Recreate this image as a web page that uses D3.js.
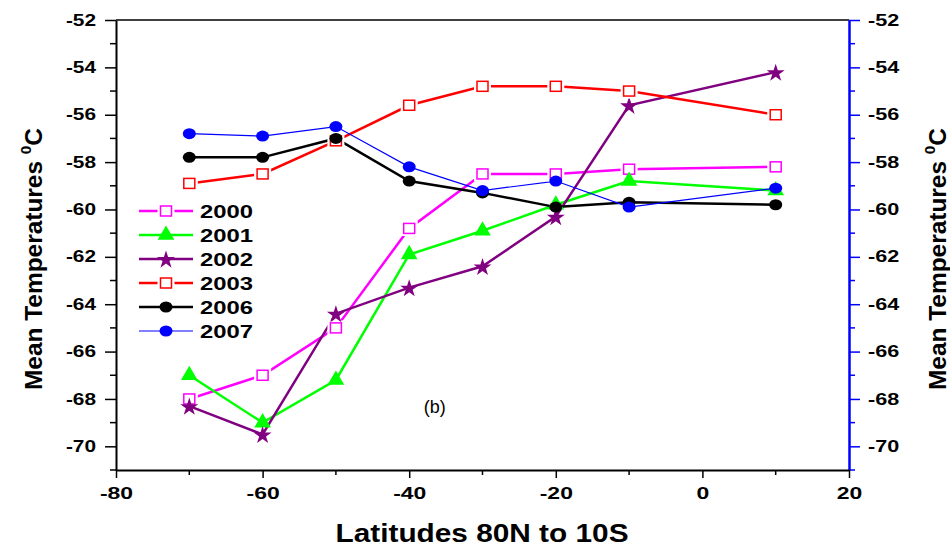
<!DOCTYPE html>
<html><head><meta charset="utf-8">
<script src="https://cdn.jsdelivr.net/npm/d3@7/dist/d3.min.js"></script>
<style>body{margin:0;background:#fff}svg{display:block;font-family:"Liberation Sans",Arial,sans-serif}</style>
</head><body><svg id="c" width="950" height="548"></svg>
<script>
const latitudes = [-70, -60, -50, -40, -30, -20, -10, 10];
const y2000 = [-68.0, -67.0, -65.0, -60.8, -58.5, -58.5, -58.3, -58.2];
const y2001 = [-67.0, -69.0, -67.2, -61.9, -60.9, -59.8, -58.8, -59.2];
const y2002 = [-68.3, -69.5, -64.4, -63.3, -62.4, -60.3, -55.6, -54.2];
const y2003 = [-58.9, -58.5, -57.1, -55.6, -54.8, -54.8, -55.0, -56.0];
const y2006 = [-57.8, -57.8, -57.0, -58.8, -59.3, -59.9, -59.7, -59.8];
const y2007 = [-56.8, -56.9, -56.5, -58.2, -59.2, -58.8, -59.9, -59.1];
const seriesNames = ["2000","2001","2002","2003","2006","2007"];
const xTicks = [-80, -60, -40, -20, 0, 20];
const yTicks = [-70, -68, -66, -64, -62, -60, -58, -56, -54, -52];
const xTitle = "Latitudes 80N to 10S";
const yTitle = "Mean Temperatures";
const panelLabel = "(b)";

const series = [
  {name:seriesNames[0], values:y2000, color:"#ff00ff", marker:"osquare", lw:2.5},
  {name:seriesNames[1], values:y2001, color:"#00ff00", marker:"triangle", lw:2.5},
  {name:seriesNames[2], values:y2002, color:"#800080", marker:"star", lw:2.5},
  {name:seriesNames[3], values:y2003, color:"#ff0000", marker:"osquare", lw:2.5},
  {name:seriesNames[4], values:y2006, color:"#000000", marker:"circle", lw:2.5},
  {name:seriesNames[5], values:y2007, color:"#0000ff", marker:"circle", lw:1.2}
];

const svg = d3.select("#c");
const L=116, R=849, T=20, B=470;
const x = d3.scaleLinear().domain([-80,20]).range([L,R]);
const y = d3.scaleLinear().domain([-71,-52]).range([B,T]);
const fmt = d=>String(d);

function stretch(sel,k){
  sel.each(function(){
    const w=this.getComputedTextLength();
    d3.select(this).attr("textLength",w*k).attr("lengthAdjust","spacingAndGlyphs");
  });
}

// frame top
svg.append("line").attr("x1",L).attr("x2",R).attr("y1",T).attr("y2",T).attr("stroke","#000").attr("stroke-width",1.5);

const minorY = d3.range(-71,-51,1).filter(v=>v%2!==0);
const minorX = d3.range(-70,20,20);
function styleAxis(g,color,fs){
  g.select(".domain").attr("stroke",color).attr("stroke-width",2);
  g.selectAll(".tick line").attr("stroke",color).attr("stroke-width",1.5);
  g.selectAll(".tick text").attr("fill","#000").attr("font-size",fs).attr("font-weight","bold")
   .attr("font-family","Liberation Sans, Arial, sans-serif");
}
const gL = svg.append("g").attr("transform",`translate(${L},0)`)
  .call(d3.axisLeft(y).tickValues(yTicks).tickSize(11).tickSizeOuter(0).tickPadding(9).tickFormat(fmt));
styleAxis(gL,"#000",16);
stretch(gL.selectAll(".tick text"),1.3);
gL.selectAll(".minor").data(minorY).enter().append("line")
  .attr("x1",0).attr("x2",-6).attr("y1",d=>y(d)).attr("y2",d=>y(d)).attr("stroke","#000").attr("stroke-width",1.5);

const gR = svg.append("g").attr("transform",`translate(${R},0)`)
  .call(d3.axisRight(y).tickValues(yTicks).tickSize(11).tickSizeOuter(0).tickPadding(8).tickFormat(fmt));
styleAxis(gR,"#0000ff",16);
stretch(gR.selectAll(".tick text"),1.35);
gR.select(".domain").attr("stroke-width",2.5);
gR.selectAll(".minor").data(minorY).enter().append("line")
  .attr("x1",0).attr("x2",6).attr("y1",d=>y(d)).attr("y2",d=>y(d)).attr("stroke","#0000ff").attr("stroke-width",1.5);

const gB = svg.append("g").attr("transform",`translate(0,${B})`)
  .call(d3.axisBottom(x).tickValues(xTicks).tickSize(8).tickSizeOuter(0).tickPadding(9).tickFormat(fmt));
styleAxis(gB,"#000",17);
stretch(gB.selectAll(".tick text"),1.35);
gB.selectAll(".minor").data(minorX).enter().append("line")
  .attr("y1",0).attr("y2",5).attr("x1",d=>x(d)).attr("x2",d=>x(d)).attr("stroke","#000").attr("stroke-width",1.5);

// titles
function yTitleText(g){
  g.append("tspan").text(yTitle+" ");
  g.append("tspan").attr("font-size",15).attr("dy",-11).text("0");
  g.append("tspan").attr("dy",11).text("C");
}
const tl = svg.append("text").attr("transform",`translate(42,259) rotate(-90)`)
  .attr("text-anchor","middle").attr("font-size",24).attr("font-weight","bold")
  .attr("textLength",262).attr("lengthAdjust","spacingAndGlyphs");
yTitleText(tl);
const tr = svg.append("text").attr("transform",`translate(946,259) rotate(-90)`)
  .attr("text-anchor","middle").attr("font-size",24).attr("font-weight","bold")
  .attr("textLength",262).attr("lengthAdjust","spacingAndGlyphs");
yTitleText(tr);
svg.append("text").attr("x",482).attr("y",542).attr("text-anchor","middle")
  .attr("font-size",26).attr("font-weight","bold")
  .attr("textLength",293).attr("lengthAdjust","spacingAndGlyphs").text(xTitle);
svg.append("text").attr("x",x(-36.5)).attr("y",y(-68.6)).attr("text-anchor","middle")
  .attr("font-size",18).text(panelLabel);

// markers
function drawMarker(g, cx, cy, s){
  if(s.marker==="osquare"){
    g.append("rect").attr("x",cx-8.5).attr("y",cy-7.5).attr("width",17).attr("height",15).attr("fill","#fff");
    g.append("rect").attr("x",cx-5.5).attr("y",cy-5).attr("width",11).attr("height",10)
      .attr("fill","#fff").attr("stroke",s.color).attr("stroke-width",1.5);
  } else if(s.marker==="triangle"){
    g.append("path").attr("d",d3.symbol(d3.symbolTriangle,120)()).attr("transform",`translate(${cx},${cy})`).attr("fill",s.color);
  } else if(s.marker==="star"){
    g.append("path").attr("d",d3.symbol(d3.symbolStar,100)()).attr("transform",`translate(${cx},${cy+1})`).attr("fill",s.color);
  } else {
    g.append("ellipse").attr("cx",cx).attr("cy",cy).attr("rx",6.5).attr("ry",5.5).attr("fill",s.color);
  }
}

const line = d3.line().x(d=>x(d[0])).y(d=>y(d[1]));
const plot = svg.append("g");
series.forEach(s=>{
  const pts = latitudes.map((lat,i)=>[lat,s.values[i]]);
  plot.append("path").attr("d",line(pts)).attr("fill","none").attr("stroke",s.color).attr("stroke-width",s.lw);
});
series.forEach(s=>{
  latitudes.forEach((lat,i)=>drawMarker(plot, x(lat), y(s.values[i]), s));
});

// legend
const lg = svg.append("g");
series.forEach((s,i)=>{
  const yy = 211 + i*24;
  lg.append("line").attr("x1",139).attr("x2",193).attr("y1",yy).attr("y2",yy).attr("stroke",s.color).attr("stroke-width",s.lw);
  drawMarker(lg,166,yy,s);
  lg.append("text").attr("x",200).attr("y",yy+7).attr("font-size",19).attr("font-weight","bold")
    .attr("textLength",53).attr("lengthAdjust","spacingAndGlyphs").text(s.name);
});
</script></body></html>
